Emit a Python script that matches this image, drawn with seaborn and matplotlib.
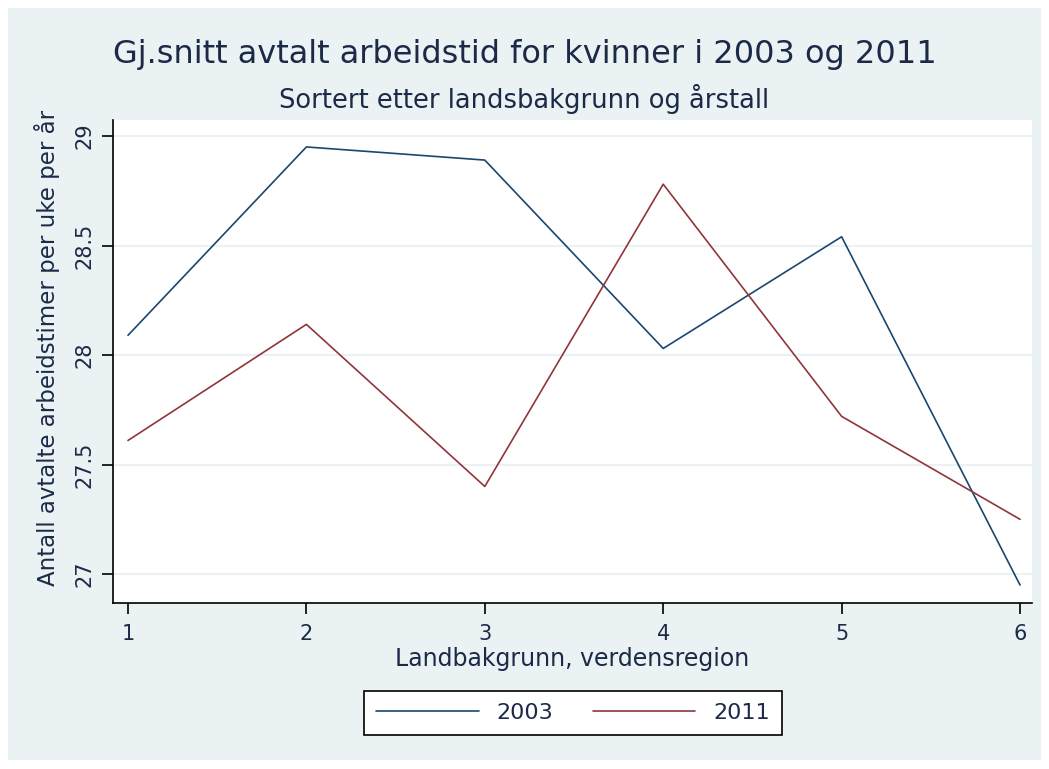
import numpy as np
import pandas as pd
import matplotlib
matplotlib.use('Agg')
import matplotlib.pyplot as plt
import seaborn as sns
from matplotlib.patches import Rectangle

regions = [1, 2, 3, 4, 5, 6]
hours_2003 = [28.09, 28.95, 28.89, 28.03, 28.54, 26.95]
hours_2011 = [27.61, 28.14, 27.40, 28.78, 27.72, 27.25]
years = ['2003', '2011']
yticks = [27, 27.5, 28, 28.5, 29]

df = pd.DataFrame({
    'region': regions * 2,
    'hours': hours_2003 + hours_2011,
    'year': [years[0]] * len(regions) + [years[1]] * len(regions),
})

bg = '#eaf2f3'
txt = '#1c2a48'
palette = {'2003': '#1a476f', '2011': '#90353b'}

sns.set_style('white')
plt.rcParams['font.family'] = ['DejaVu Sans']

fig = plt.figure(figsize=(10.49, 7.69), dpi=100)
fig.patch.set_facecolor('white')
fig.patches.append(Rectangle((8 / 1049, 9 / 769), 1033 / 1049, 752 / 769,
                             transform=fig.transFigure, facecolor=bg,
                             edgecolor='none', zorder=-1))

ax = fig.add_axes([113 / 1049, 1 - 603 / 769, 919 / 1049, 483 / 769])
ax.set_facecolor('white')

sns.lineplot(data=df, x='region', y='hours', hue='year', palette=palette,
             linewidth=1.2, ax=ax, legend=False)

ax.set_xlim(0.916, 6.067)
ax.set_ylim(26.868, 29.073)
ax.set_xticks(regions)
ax.set_yticks(yticks)
ax.set_yticklabels(['27', '27.5', '28', '28.5', '29'], rotation=90, va='center')
ax.grid(axis='y', color=bg, linewidth=1.5)
ax.set_axisbelow(True)
for s in ['top', 'right']:
    ax.spines[s].set_visible(False)
for s in ['left', 'bottom']:
    ax.spines[s].set_color('black')
    ax.spines[s].set_linewidth(1.2)
ax.tick_params(axis='both', bottom=True, left=True, direction='out', length=8,
               width=1.2, color='black', labelsize=15, labelcolor=txt, pad=5)
ax.tick_params(axis='x', pad=7)

ax.set_xlabel('Landbakgrunn, verdensregion', fontsize=17, color=txt, labelpad=2)
ax.set_ylabel('Antall avtalte arbeidstimer per uke per år', fontsize=16.5, color=txt)
ax.yaxis.set_label_coords(-0.058, 0.528)

fig.text(0.5, 1 - 55 / 769, 'Gj.snitt avtalt arbeidstid for kvinner i 2003 og 2011',
         ha='center', va='center', fontsize=23, color=txt)
fig.text(0.5, 1 - 99 / 769, 'Sortert etter landsbakgrunn og årstall',
         ha='center', va='center', fontsize=18.5, color=txt)

handles = [plt.Line2D([], [], color=palette[y], linewidth=1.2) for y in years]
leg = fig.legend(handles, years, loc='center', bbox_to_anchor=(573 / 1049, 1 - 713 / 769),
                 ncol=2, frameon=True, fontsize=16, handlelength=4.6, columnspacing=1.8,
                 handletextpad=0.8, borderpad=0.55, fancybox=False, framealpha=1,
                 facecolor='white')
leg.get_frame().set_edgecolor('black')
leg.get_frame().set_linewidth(1.2)
for t in leg.get_texts():
    t.set_color(txt)

fig.savefig('out.png', dpi=100, facecolor=fig.get_facecolor())
